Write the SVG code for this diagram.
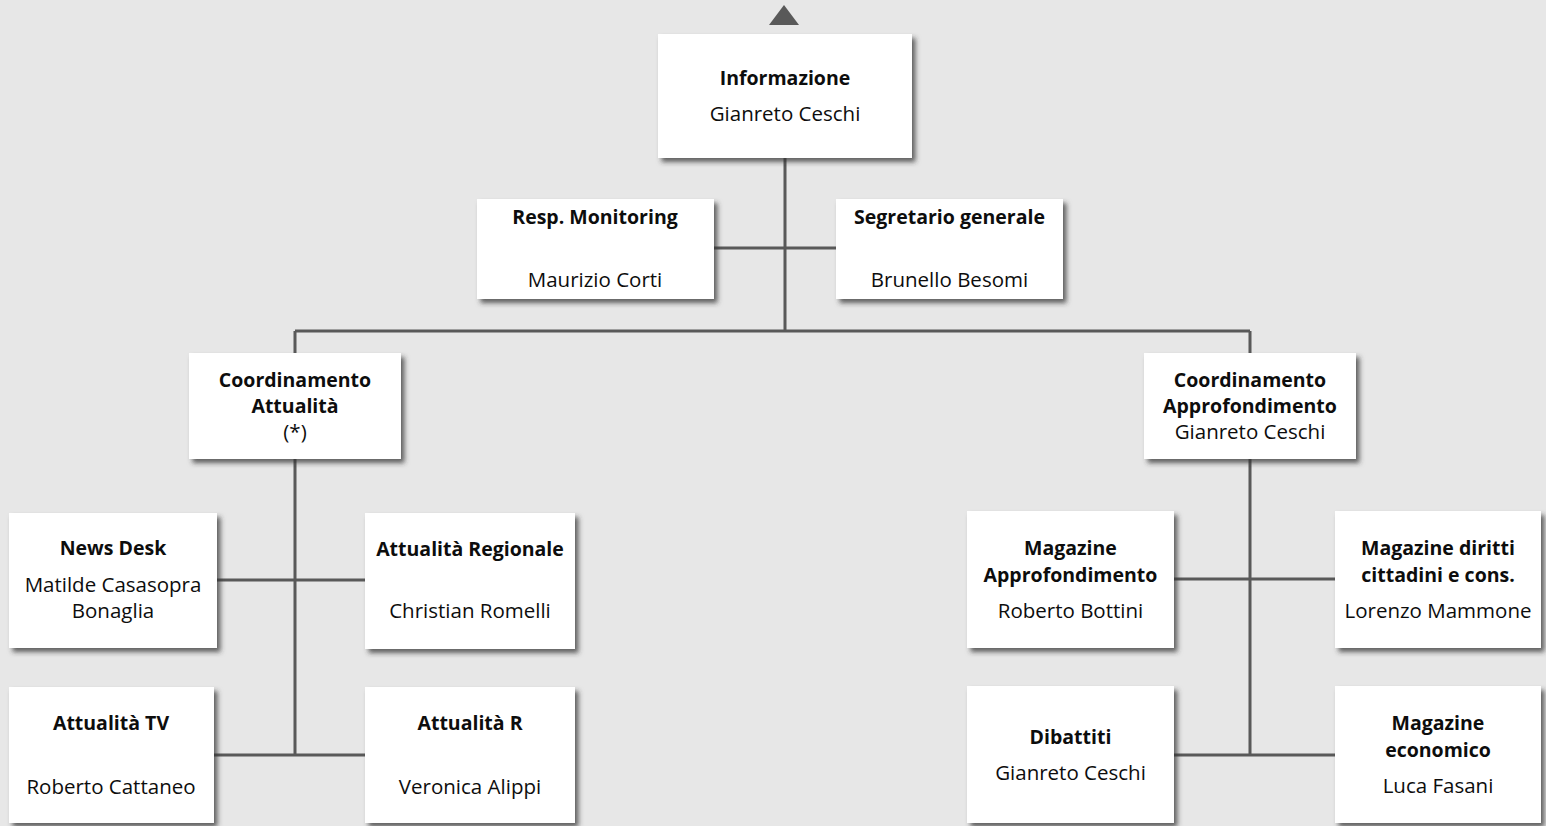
<svg xmlns="http://www.w3.org/2000/svg" width="1546" height="826" viewBox="0 0 1546 826">
<defs>
<filter id="sh" x="-10%" y="-10%" width="125%" height="130%">
<feDropShadow dx="3.5" dy="4" stdDeviation="2.5" flood-color="#333333" flood-opacity="0.75"/>
</filter>
<style>
.box{fill:#ffffff;filter:url(#sh);}
.t{font-family:"Open Sans","Noto Sans","DejaVu Sans",sans-serif;font-size:20.5px;fill:#0d0d0d;text-anchor:middle;}
.b{font-weight:bold;font-size:19.5px;}
.ln{stroke:#595959;stroke-width:3;fill:none;}
</style>
</defs>
<rect x="0" y="0" width="1546" height="826" fill="#e7e7e7"/>
<polygon points="769,25 799,25 784,5" fill="#595959"/>
<g id="connectors">
<path class="ln" d="M785,158 V331 M714,248 H836 M295,331 H1250 M295,331 V353 M1250,331 V353"/>
<path class="ln" d="M295,459 V755 M217,580 H365 M213,755 H365"/>
<path class="ln" d="M1250,459 V755 M1174,579 H1335 M1174,755 H1335"/>
</g>
<g id="informazione">
<rect class="box" x="658" y="34" width="254" height="124"/>
<text class="t b" x="785" y="85">Informazione</text>
<text class="t" x="785" y="121">Gianreto Ceschi</text>
</g>
<g id="resp-monitoring">
<rect class="box" x="477" y="199" width="237" height="100"/>
<text class="t b" x="595" y="224">Resp. Monitoring</text>
<text class="t" x="595" y="287">Maurizio Corti</text>
</g>
<g id="segretario-generale">
<rect class="box" x="836" y="199" width="227" height="100"/>
<text class="t b" x="949.5" y="224">Segretario generale</text>
<text class="t" x="949.5" y="287">Brunello Besomi</text>
</g>
<g id="coord-attualita">
<rect class="box" x="189" y="353" width="212" height="106"/>
<text class="t b" x="295" y="387">Coordinamento</text>
<text class="t b" x="295" y="413">Attualità</text>
<text class="t" x="295" y="439">(*)</text>
</g>
<g id="coord-approfondimento">
<rect class="box" x="1144" y="353" width="212" height="106"/>
<text class="t b" x="1250" y="387">Coordinamento</text>
<text class="t b" x="1250" y="413">Approfondimento</text>
<text class="t" x="1250" y="439">Gianreto Ceschi</text>
</g>
<g id="news-desk">
<rect class="box" x="9" y="513" width="208" height="135"/>
<text class="t b" x="113" y="555">News Desk</text>
<text class="t" x="113" y="592">Matilde Casasopra</text>
<text class="t" x="113" y="618">Bonaglia</text>
</g>
<g id="attualita-regionale">
<rect class="box" x="365" y="513" width="210" height="136"/>
<text class="t b" x="470" y="556">Attualità Regionale</text>
<text class="t" x="470" y="618">Christian Romelli</text>
</g>
<g id="attualita-tv">
<rect class="box" x="9" y="687" width="205" height="136"/>
<text class="t b" x="111" y="730">Attualità TV</text>
<text class="t" x="111" y="794">Roberto Cattaneo</text>
</g>
<g id="attualita-r">
<rect class="box" x="365" y="687" width="210" height="136"/>
<text class="t b" x="470" y="730">Attualità R</text>
<text class="t" x="470" y="794">Veronica Alippi</text>
</g>
<g id="magazine-approfondimento">
<rect class="box" x="967" y="511" width="207" height="137"/>
<text class="t b" x="1070.5" y="555">Magazine</text>
<text class="t b" x="1070.5" y="582">Approfondimento</text>
<text class="t" x="1070.5" y="618">Roberto Bottini</text>
</g>
<g id="magazine-diritti">
<rect class="box" x="1335" y="511" width="206" height="137"/>
<text class="t b" x="1438" y="555">Magazine diritti</text>
<text class="t b" x="1438" y="582">cittadini e cons.</text>
<text class="t" x="1438" y="618">Lorenzo Mammone</text>
</g>
<g id="dibattiti">
<rect class="box" x="967" y="686" width="207" height="137"/>
<text class="t b" x="1070.5" y="744">Dibattiti</text>
<text class="t" x="1070.5" y="780">Gianreto Ceschi</text>
</g>
<g id="magazine-economico">
<rect class="box" x="1335" y="686" width="206" height="137"/>
<text class="t b" x="1438" y="730">Magazine</text>
<text class="t b" x="1438" y="757">economico</text>
<text class="t" x="1438" y="793">Luca Fasani</text>
</g>
</svg>
